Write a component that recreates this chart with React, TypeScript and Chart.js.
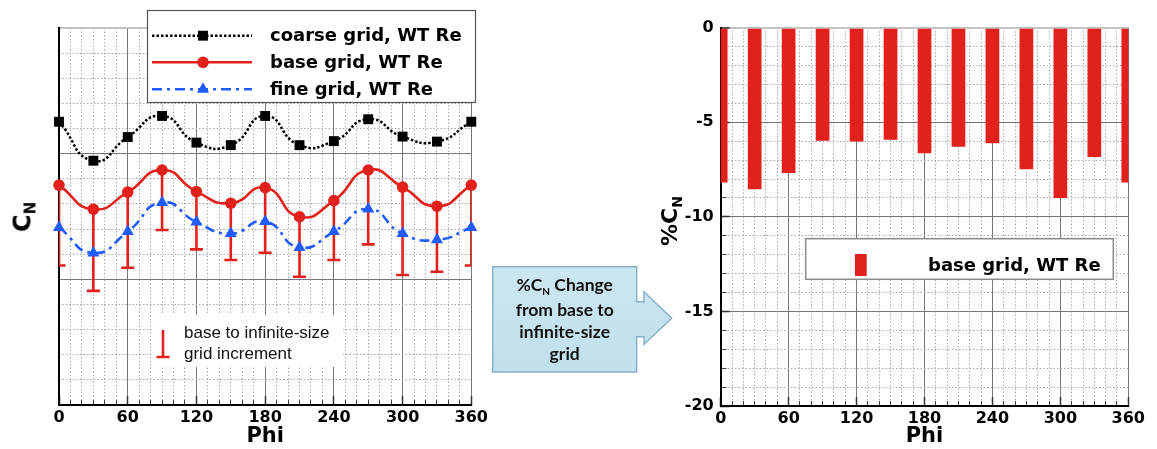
import React, { useEffect, useRef } from 'react';
import { Chart, registerables } from 'chart.js';

Chart.register(...registerables);

// ---------------- data ----------------
const phi = [0, 30, 60, 90, 120, 150, 180, 210, 240, 270, 300, 330, 360];
const seriesLabels = ['coarse grid, WT Re', 'base grid, WT Re', 'fine grid, WT Re'];
const coarseGridCN = [11.27, 9.72, 10.66, 11.5, 10.44, 10.34, 11.5, 10.34, 10.5, 11.37, 10.68, 10.48, 11.27];
const baseGridCN = [8.75, 7.79, 8.47, 9.35, 8.49, 8.03, 8.65, 7.49, 8.13, 9.35, 8.67, 7.91, 8.75];
const fineGridCN = [7.06, 6.05, 6.9, 8.06, 7.28, 6.82, 7.3, 6.27, 6.9, 7.8, 6.82, 6.57, 7.06];
const infiniteGridCN = [5.55, 4.54, 5.46, 6.96, 6.19, 5.77, 6.06, 5.1, 5.77, 6.39, 5.17, 5.3, 5.55];
const pctChangeCN = [-8.19, -8.54, -7.68, -5.98, -6.02, -5.93, -6.64, -6.3, -6.11, -7.48, -9.01, -6.83, -8.19];
const errorLegendLines = ['base to infinite-size', 'grid increment'];
const barLegendLabel = 'base grid, WT Re';
const calloutLines = ['Change', 'from base to', 'infinite-size', 'grid'];

// ---------------- styles ----------------
const FONT = "'DejaVu Sans', 'Liberation Sans', sans-serif";
const RED = '#e2211c';
const BLUE = '#1f5bff';
const MAJOR = '#777777';
const MINOR = '#a9a9a9';
const TOPLINE = '#c4c4c4';
const CLEAR = 'rgba(0,0,0,0)';

function drawMarker(ctx: CanvasRenderingContext2D, style: string, x: number, y: number, r: number, color: string) {
  ctx.save();
  ctx.fillStyle = color;
  ctx.beginPath();
  if (style === 'rect') {
    const s = Math.SQRT1_2 * r;
    ctx.rect(x - s, y - s, 2 * s, 2 * s);
  } else if (style === 'triangle') {
    let rad = 0;
    ctx.moveTo(x + Math.sin(rad) * r, y - Math.cos(rad) * r);
    rad += (2 * Math.PI) / 3;
    ctx.lineTo(x + Math.sin(rad) * r, y - Math.cos(rad) * r);
    rad += (2 * Math.PI) / 3;
    ctx.lineTo(x + Math.sin(rad) * r, y - Math.cos(rad) * r);
    ctx.closePath();
  } else {
    ctx.arc(x, y, r, 0, Math.PI * 2);
  }
  ctx.fill();
  ctx.restore();
}

const errorBarPlugin = {
  id: 'errorBars',
  beforeDatasetsDraw(chart: any) {
    const { ctx, chartArea, scales } = chart;
    const xs = scales.x;
    const ys = scales.y;
    ctx.save();
    ctx.beginPath();
    ctx.rect(chartArea.left, chartArea.top, chartArea.right - chartArea.left, chartArea.bottom - chartArea.top);
    ctx.clip();
    ctx.strokeStyle = RED;
    ctx.lineWidth = 2.6;
    phi.forEach((p, i) => {
      const px = xs.getPixelForValue(p);
      const y0 = ys.getPixelForValue(baseGridCN[i]);
      const y1 = ys.getPixelForValue(infiniteGridCN[i]);
      ctx.beginPath();
      ctx.moveTo(px, y0);
      ctx.lineTo(px, y1);
      ctx.moveTo(px - 6.5, y1);
      ctx.lineTo(px + 6.5, y1);
      ctx.stroke();
    });
    ctx.restore();
  },
};

const leftLegendPlugin = {
  id: 'leftLegend',
  afterDatasetsDraw(chart: any) {
    const ctx: CanvasRenderingContext2D = chart.ctx;
    ctx.save();
    // series legend
    ctx.fillStyle = '#fff';
    ctx.fillRect(147, 10, 329, 93);
    ctx.strokeStyle = '#555';
    ctx.lineWidth = 1.2;
    ctx.strokeRect(147.5, 10.5, 328, 92);
    const rows = [35.7, 62.3, 89.3];
    chart.data.datasets.forEach((ds: any, i: number) => {
      const y = rows[i];
      ctx.save();
      ctx.strokeStyle = ds.borderColor;
      ctx.lineWidth = ds.borderWidth;
      ctx.setLineDash(ds.borderDash || []);
      ctx.beginPath();
      ctx.moveTo(152, y);
      ctx.lineTo(252, y);
      ctx.stroke();
      ctx.restore();
      drawMarker(ctx, ds.pointStyle, 203, y, ds.pointRadius, ds.pointBackgroundColor);
      ctx.fillStyle = '#000';
      ctx.font = `bold 18px ${FONT}`;
      ctx.textBaseline = 'middle';
      ctx.textAlign = 'left';
      ctx.fillText(ds.label, 270, y + 1);
    });
    // error bar legend
    ctx.fillStyle = '#fff';
    ctx.fillRect(152, 315, 191, 52);
    ctx.strokeStyle = RED;
    ctx.lineWidth = 2.6;
    ctx.beginPath();
    ctx.moveTo(163, 330);
    ctx.lineTo(163, 357);
    ctx.moveTo(156.5, 357);
    ctx.lineTo(169.5, 357);
    ctx.stroke();
    ctx.fillStyle = '#111';
    ctx.font = "17px 'Liberation Sans', Arial, sans-serif";
    ctx.textBaseline = 'middle';
    ctx.fillText(errorLegendLines[0], 184, 333);
    ctx.fillText(errorLegendLines[1], 184, 354);
    ctx.restore();
  },
};

const rightLegendPlugin = {
  id: 'rightLegend',
  afterDatasetsDraw(chart: any) {
    const ctx: CanvasRenderingContext2D = chart.ctx;
    ctx.save();
    ctx.fillStyle = '#fff';
    ctx.fillRect(145.7, 238.7, 307.6, 40.6);
    ctx.strokeStyle = '#8a8a8a';
    ctx.lineWidth = 1.5;
    ctx.strokeRect(145.7, 238.7, 307.6, 40.6);
    ctx.fillStyle = RED;
    ctx.fillRect(195, 254, 11.7, 22);
    ctx.fillStyle = '#000';
    ctx.font = `bold 18px ${FONT}`;
    ctx.textBaseline = 'middle';
    ctx.fillText(barLegendLabel, 268, 266);
    ctx.restore();
  },
};

const tickFont = { family: FONT, size: 16, weight: 'bold' as const };
const titleFont = { family: FONT, size: 21, weight: 'bold' as const };

function phiAxes(height: number) {
  return {
    x: {
      type: 'linear',
      position: 'bottom',
      weight: 1,
      min: 0,
      max: 360,
      offset: false,
      ticks: { stepSize: 60, padding: 12, color: '#000', font: tickFont, maxRotation: 0, autoSkip: false },
      grid: {
        offset: false,
        color: MAJOR,
        lineWidth: 1,
        drawTicks: true,
        tickLength: -9,
        tickColor: '#333',
        tickWidth: 1.5,
      },
      border: { display: true, color: '#000', width: 2 },
      title: { display: true, text: 'Phi', color: '#000', font: titleFont, padding: { top: 0, bottom: 0 } },
      afterFit: (s: any) => {
        s.height = height;
      },
    },
    xMinor: {
      type: 'linear',
      position: 'bottom',
      weight: 0,
      min: 0,
      max: 360,
      offset: false,
      ticks: { display: false, stepSize: 10 },
      grid: {
        offset: false,
        color: (c: any) => (c.tick && c.tick.value % 60 === 0 ? CLEAR : MINOR),
        lineWidth: 1,
        drawTicks: true,
        tickLength: -5,
        tickColor: (c: any) => (c.tick && c.tick.value % 60 === 0 ? CLEAR : '#444'),
        tickWidth: 1,
      },
      border: { display: false, dash: [1.5, 2] },
      afterFit: (s: any) => {
        s.height = 0;
      },
    },
  };
}

export default function App() {
  const leftRef = useRef<HTMLCanvasElement>(null);
  const rightRef = useRef<HTMLCanvasElement>(null);

  useEffect(() => {
    const left = new Chart(leftRef.current as HTMLCanvasElement, {
      type: 'line',
      data: {
        datasets: [
          {
            label: seriesLabels[0],
            data: phi.map((x, i) => ({ x, y: coarseGridCN[i] })),
            borderColor: '#000',
            backgroundColor: '#000',
            pointBackgroundColor: '#000',
            pointBorderColor: '#000',
            borderWidth: 2.5,
            borderDash: [2.5, 2],
            pointStyle: 'rect',
            pointRadius: 7,
            pointBorderWidth: 0,
            tension: 0.55,
            clip: false,
          },
          {
            label: seriesLabels[1],
            data: phi.map((x, i) => ({ x, y: baseGridCN[i] })),
            borderColor: RED,
            backgroundColor: RED,
            pointBackgroundColor: RED,
            pointBorderColor: RED,
            borderWidth: 2.6,
            borderDash: [],
            pointStyle: 'circle',
            pointRadius: 5.8,
            pointBorderWidth: 0,
            tension: 0.55,
            clip: false,
          },
          {
            label: seriesLabels[2],
            data: phi.map((x, i) => ({ x, y: fineGridCN[i] })),
            borderColor: BLUE,
            backgroundColor: BLUE,
            pointBackgroundColor: BLUE,
            pointBorderColor: BLUE,
            borderWidth: 2.6,
            borderDash: [10, 5, 3, 5],
            pointStyle: 'triangle',
            pointRadius: 7,
            pointBorderWidth: 0,
            tension: 0.55,
            clip: false,
          },
        ],
      } as any,
      options: {
        animation: false,
        responsive: false,
        maintainAspectRatio: false,
        layout: { padding: { left: 0, top: 28, right: 25, bottom: 0 } },
        plugins: { legend: { display: false }, tooltip: { enabled: false } },
        scales: {
          ...phiAxes(44),
          y: {
            type: 'linear',
            position: 'left',
            weight: 1,
            min: 0,
            max: 15,
            ticks: { display: false, stepSize: 5 },
            grid: {
              color: (c: any) => (c.tick && c.tick.value === 15 ? TOPLINE : MAJOR),
              lineWidth: (c: any) => (c.tick && c.tick.value === 15 ? 2 : 1),
              drawTicks: false,
            },
            border: { display: true, color: '#000', width: 2 },
            afterFit: (s: any) => {
              s.width = 59;
            },
          },
          yMinor: {
            type: 'linear',
            position: 'left',
            weight: 0,
            min: 0,
            max: 15,
            ticks: { display: false, stepSize: 1 },
            grid: {
              color: (c: any) => (c.tick && c.tick.value % 5 === 0 ? CLEAR : MINOR),
              lineWidth: 1,
              drawTicks: false,
            },
            border: { display: false, dash: [1.5, 2] },
            afterFit: (s: any) => {
              s.width = 0;
            },
          },
        } as any,
      },
      plugins: [errorBarPlugin, leftLegendPlugin],
    } as any);

    const right = new Chart(rightRef.current as HTMLCanvasElement, {
      type: 'bar',
      data: {
        datasets: [
          {
            label: barLegendLabel,
            data: phi.map((x, i) => ({ x, y: pctChangeCN[i] })),
            backgroundColor: RED,
            borderWidth: 0,
            barPercentage: 0.404,
            categoryPercentage: 1,
            clip: 0,
          },
        ],
      } as any,
      options: {
        animation: false,
        responsive: false,
        maintainAspectRatio: false,
        layout: { padding: { left: 0, top: 27.7, right: 20.3, bottom: 0 } },
        plugins: { legend: { display: false }, tooltip: { enabled: false } },
        scales: {
          ...phiAxes(43),
          y: {
            type: 'linear',
            position: 'left',
            weight: 1,
            min: -20,
            max: 0,
            beginAtZero: false,
            ticks: { stepSize: 5, padding: 16, color: '#000', font: tickFont },
            grid: {
              color: (c: any) => (c.tick && c.tick.value === 0 ? TOPLINE : MAJOR),
              lineWidth: (c: any) => (c.tick && c.tick.value === 0 ? 2 : 1),
              drawTicks: true,
              tickLength: -9,
              tickColor: '#333',
              tickWidth: 1.5,
            },
            border: { display: true, color: '#000', width: 2 },
            afterFit: (s: any) => {
              s.width = 60.7;
            },
          },
          yMinor: {
            type: 'linear',
            position: 'left',
            weight: 0,
            min: -20,
            max: 0,
            beginAtZero: false,
            ticks: { display: false, stepSize: 1 },
            grid: {
              color: (c: any) => (c.tick && c.tick.value % 5 === 0 ? CLEAR : MINOR),
              lineWidth: 1,
              drawTicks: true,
              tickLength: -6,
              tickColor: (c: any) => (c.tick && c.tick.value % 5 === 0 ? CLEAR : '#444'),
              tickWidth: 1,
            },
            border: { display: false, dash: [1.5, 2] },
            afterFit: (s: any) => {
              s.width = 0;
            },
          },
        } as any,
      },
      plugins: [rightLegendPlugin],
    } as any);

    return () => {
      left.destroy();
      right.destroy();
    };
  }, []);

  const rotLabel: React.CSSProperties = {
    position: 'absolute',
    transform: 'translate(-50%, -50%) rotate(-90deg)',
    font: `bold 24px ${FONT}`,
    color: '#000',
    whiteSpace: 'nowrap',
    lineHeight: '28px',
  };
  const subStyle: React.CSSProperties = { fontSize: '15px', position: 'relative', top: '5px' };

  return (
    <div style={{ position: 'absolute', left: 0, top: 0, width: 1157, height: 449, background: '#fff', overflow: 'hidden' }}>
      <canvas
        ref={leftRef}
        width={500}
        height={449}
        style={{ position: 'absolute', left: 0, top: 0, width: 500, height: 449, display: 'block' }}
      />
      <canvas
        ref={rightRef}
        width={497}
        height={449}
        style={{ position: 'absolute', left: 660, top: 0, width: 497, height: 449, display: 'block' }}
      />
      <div style={{ ...rotLabel, left: 24, top: 217 }}>
        C<span style={subStyle}>N</span>
      </div>
      <div style={{ ...rotLabel, left: 671, top: 221, fontSize: '22px' }}>
        %C<span style={{ ...subStyle, fontSize: '14px' }}>N</span>
      </div>
      <svg
        width={1157}
        height={449}
        style={{ position: 'absolute', left: 0, top: 0, pointerEvents: 'none' }}
      >
        <defs>
          <linearGradient id="calloutFill" x1="0" y1="0" x2="0" y2="1">
            <stop offset="0" stopColor="#cbe7f1" />
            <stop offset="1" stopColor="#bfe0ec" />
          </linearGradient>
        </defs>
        <path
          d="M492.7,266.7 H636.7 V301.7 H644 V291.7 L671.7,318.3 L644,344.3 V336.7 H636.7 V372 H492.7 Z"
          fill="url(#calloutFill)"
          stroke="#86b3cb"
          strokeWidth={1.5}
        />
      </svg>
      <div
        style={{
          position: 'absolute',
          left: 492.7,
          top: 266.7,
          width: 144,
          height: 105.3,
          display: 'flex',
          flexDirection: 'column',
          justifyContent: 'center',
          alignItems: 'center',
          font: "bold 17.5px Lato, 'Open Sans', sans-serif",
          lineHeight: '21.7px',
          color: '#111',
          textAlign: 'center',
        }}
      >
        <div>
          %C<span style={{ fontSize: '10px', position: 'relative', top: '4px' }}>N</span> {calloutLines[0]}
        </div>
        <div>{calloutLines[1]}</div>
        <div>{calloutLines[2]}</div>
        <div>{calloutLines[3]}</div>
      </div>
    </div>
  );
}
